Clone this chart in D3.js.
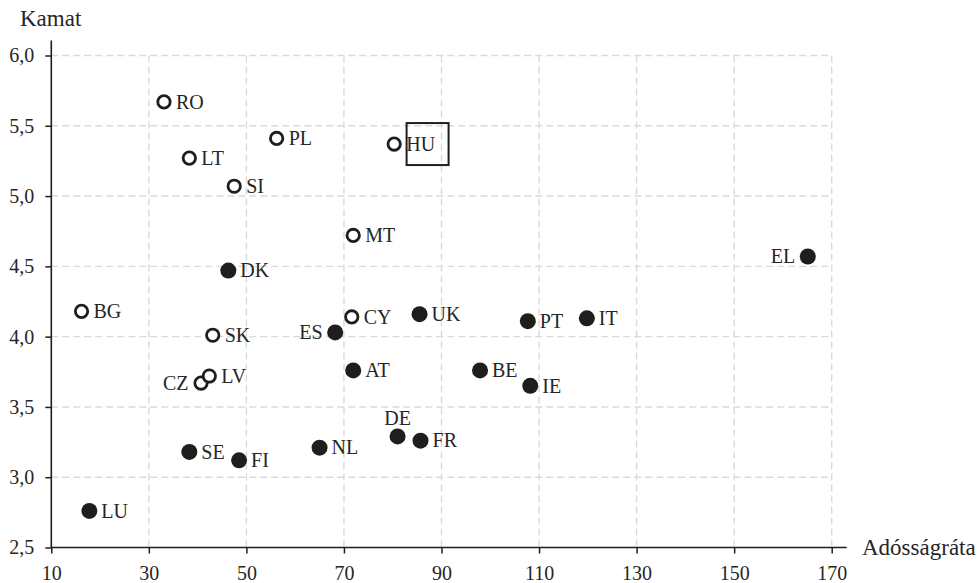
<!DOCTYPE html>
<html>
<head>
<meta charset="utf-8">
<script src="https://cdn.jsdelivr.net/npm/d3@7"></script>
<style>
  html, body { margin: 0; padding: 0; background: #ffffff; }
  svg { display: block; }
  svg text { font-family: "Liberation Serif", "Times New Roman", Times, "DejaVu Serif", serif !important; fill: #262626; }
</style>
</head>
<body>
<svg id="chart" width="978" height="583"></svg>
<script>
// ---- data ----
const countries = ["RO","LT","SI","PL","HU","MT","BG","SK","CZ","LV","CY",
                   "DK","ES","AT","UK","PT","IT","BE","IE","DE","FR","EL","LU","SE","FI","NL"];
const debtRatio = [33.1, 38.3, 47.5, 56.2, 80.3, 71.9, 16.2, 43.1, 40.7, 42.4, 71.6,
                   46.3, 68.2, 71.9, 85.5, 107.7, 119.8, 97.9, 108.2, 81.0, 85.7, 165.1, 17.8, 38.3, 48.5, 65.0];
const interest  = [5.67, 5.27, 5.07, 5.41, 5.37, 4.72, 4.18, 4.01, 3.67, 3.72, 4.14,
                   4.47, 4.03, 3.76, 4.16, 4.11, 4.13, 3.76, 3.65, 3.29, 3.26, 4.57, 2.76, 3.18, 3.12, 3.21];
const nonEuro   = ["RO","LT","SI","PL","HU","MT","BG","SK","CZ","LV","CY"]; // open circles
const highlighted = ["HU"];
const xTicks = [10, 30, 50, 70, 90, 110, 130, 150, 170];
const yTicks = [2.5, 3.0, 3.5, 4.0, 4.5, 5.0, 5.5, 6.0];
const xTitle = "Adósságráta";
const yTitle = "Kamat";

// label placement (left / top instead of default right)
const labelLeft = ["CZ", "ES", "EL"];
const labelTop = ["DE"];

const points = countries.map((c, i) => ({ c, x: debtRatio[i], y: interest[i], open: nonEuro.includes(c) }));

// ---- layout ----
const FONT = "'Liberation Serif', 'Times New Roman', Times, 'DejaVu Serif', serif";
const svg = d3.select("#chart");
const x = d3.scaleLinear().domain([10, 170]).range([51.3, 831.7]);
const y = d3.scaleLinear().domain([2.5, 6.0]).range([547.5, 55.5]);
const fmt = v => d3.format(".1f")(v).replace(".", ",");
const ink = "#1e1e1c";

// gridlines
const grid = svg.append("g");
grid.selectAll("line.v").data(xTicks.slice(1)).join("line")
  .attr("x1", d => x(d)).attr("x2", d => x(d))
  .attr("y1", y(6.0)).attr("y2", y(2.5))
  .attr("stroke", "#dadada").attr("stroke-width", 1.4).attr("stroke-dasharray", "7,4");
grid.selectAll("line.h").data(yTicks.slice(1)).join("line")
  .attr("x1", x(10)).attr("x2", x(170))
  .attr("y1", d => y(d)).attr("y2", d => y(d))
  .attr("stroke", "#dadada").attr("stroke-width", 1.4).attr("stroke-dasharray", "7,4");

// axes
const xAxis = svg.append("g").attr("transform", `translate(0,${y(2.5)})`)
  .call(d3.axisBottom(x).tickValues(xTicks).tickFormat(d3.format("d")).tickSizeOuter(0).tickSize(6).tickPadding(12));
const yAxis = svg.append("g").attr("transform", `translate(${x(10)},0)`)
  .call(d3.axisLeft(y).tickValues(yTicks).tickFormat(fmt).tickSizeOuter(0).tickSize(6).tickPadding(11));
[xAxis, yAxis].forEach(a => {
  a.attr("font-family", FONT).attr("font-size", 20);
  a.select(".domain").remove();
  a.selectAll(".tick line").attr("stroke", ink).attr("stroke-width", 1.5);
  a.selectAll(".tick text").attr("font-size", 20).attr("fill", "#262626").style("font-family", FONT);
});
// extended axis lines
svg.append("line").attr("x1", x(10)).attr("x2", x(170) + 15)
  .attr("y1", y(2.5)).attr("y2", y(2.5)).attr("stroke", ink).attr("stroke-width", 1.6);
svg.append("line").attr("x1", x(10)).attr("x2", x(10))
  .attr("y1", y(2.5)).attr("y2", y(6.0) - 15).attr("stroke", ink).attr("stroke-width", 1.6);

// axis titles
svg.append("text").attr("x", 20).attr("y", 26).attr("font-size", 23).style("font-family", FONT).text(yTitle);
svg.append("text").attr("x", 862).attr("y", y(2.5) + 7.5).attr("font-size", 23).style("font-family", FONT).text(xTitle);

// points
const pg = svg.append("g");
pg.selectAll("circle").data(points).join("circle")
  .attr("cx", d => x(d.x)).attr("cy", d => y(d.y))
  .attr("r", d => d.open ? 6.2 : 8)
  .attr("fill", d => d.open ? "#ffffff" : ink)
  .attr("stroke", d => d.open ? ink : "none")
  .attr("stroke-width", d => d.open ? 2.8 : 0);

// labels
pg.selectAll("text").data(points).join("text")
  .attr("font-size", 20)
  .style("font-family", FONT)
  .attr("x", d => labelLeft.includes(d.c) ? x(d.x) - 12.5 : labelTop.includes(d.c) ? x(d.x) : x(d.x) + 12)
  .attr("y", d => labelTop.includes(d.c) ? y(d.y) - 18 : y(d.y))
  .attr("dy", "0.34em")
  .attr("text-anchor", d => labelLeft.includes(d.c) ? "end" : labelTop.includes(d.c) ? "middle" : "start")
  .text(d => d.c);

// highlight box
points.filter(d => highlighted.includes(d.c)).forEach(d => {
  svg.append("rect")
    .attr("x", x(d.x) + 12.4).attr("y", y(d.y) - 21)
    .attr("width", 42).attr("height", 42)
    .attr("fill", "none").attr("stroke", ink).attr("stroke-width", 2);
});
</script>
</body>
</html>
